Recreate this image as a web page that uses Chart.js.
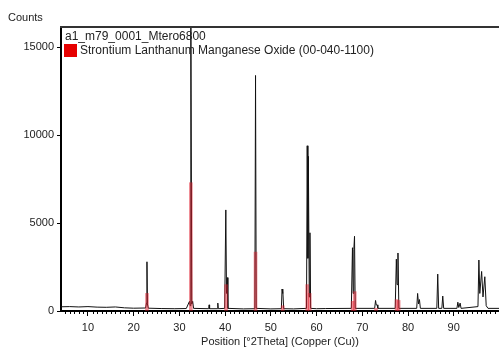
<!DOCTYPE html>
<html>
<head>
<meta charset="utf-8">
<script src="https://cdn.jsdelivr.net/npm/chart.js@4"></script>
<style>
  html, body { margin: 0; padding: 0; background: #fff; }
  #wrap { width: 499px; height: 349px; position: relative; }
</style>
</head>
<body>
<div id="wrap"><canvas id="xrdChart"></canvas></div>
<script>
let scanAngles = [4.1, 6, 8, 10, 12, 14, 16, 18, 20, 22.6, 22.8, 22.9, 23.0, 23.2, 26, 29, 31.5,
    32.2, 32.35, 32.5, 32.7, 32.9, 33.1, 36.4, 36.5, 36.6, 38.3, 38.4, 38.5,
    39.9, 40.15, 40.3, 40.45, 40.6, 44, 46.5, 46.65, 46.8, 50,
    52.3, 52.45, 52.55, 52.65, 52.8, 55, 57.8, 57.95, 58.1, 58.2, 58.4, 58.55, 58.7,
    60, 62, 67.6, 67.85, 68.0, 68.15, 68.3, 68.45, 72.7, 72.9, 73.05, 73.25, 73.4,
    77.2, 77.45, 77.6, 77.8, 78.0, 81.9, 82.1, 82.3, 82.5, 82.7,
    86.3, 86.5, 86.7, 87.4, 87.6, 87.8, 90.7, 90.9, 91.1, 91.4, 91.6,
    95.3, 95.5, 95.7, 96.1, 96.4, 96.8, 97.1, 97.5, 99.9];
let scanCounts = [240, 250, 230, 250, 220, 210, 230, 180, 160, 170, 450, 2800, 400, 160, 140, 130, 140,
    550, 300, 17000, 400, 550, 150, 130, 350, 130, 130, 450, 130,
    150, 5750, 1000, 1900, 150, 120, 130, 13400, 150, 120,
    130, 1250, 1000, 1250, 130, 120, 150, 9400, 3000, 8800, 800, 4450, 150,
    130, 140, 150, 3600, 1000, 3500, 4250, 150, 150, 600, 350, 350, 150,
    150, 2950, 1500, 3300, 150, 150, 1000, 400, 650, 150,
    150, 2100, 150, 150, 850, 150, 150, 500, 200, 450, 150,
    250, 2900, 1000, 2250, 800, 1950, 300, 150, 150];

// reference pattern 00-040-1100 sticks
let refAngles = [22.9, 32.5, 40.2, 46.65, 52.6, 57.95, 58.5, 67.9, 68.35, 73.0, 77.5, 77.95];
let refCounts = [1000, 7300, 1500, 3350, 300, 1500, 1000, 550, 1100, 150, 650, 600];

let xTicks = [10, 20, 30, 40, 50, 60, 70, 80, 90];
let yTicks = [0, 5000, 10000, 15000];

const axisFont = {family: 'Liberation Sans, Arial, sans-serif', size: 11};
const textColor = '#222';

const scanPoints = scanAngles.map((a, i) => ({x: a, y: scanCounts[i]}));
const refPoints = refAngles.map((a, i) => ({x: a, y: refCounts[i]}));

const decorations = {
    id: 'decorations',
    afterDraw(chart) {
        const {ctx, chartArea: {left, right, top, bottom}, scales: {x}} = chart;
        ctx.save();
        // top frame line
        ctx.strokeStyle = '#333';
        ctx.lineWidth = 2;
        ctx.beginPath();
        ctx.moveTo(left - 1, top - 1);
        ctx.lineTo(right, top - 1);
        ctx.stroke();

        // minor ticks every degree
        ctx.strokeStyle = '#000';
        ctx.lineWidth = 1;
        for (let d = 5; d < 100; d++) {
            if (d % 10 === 0) continue;
            const px = Math.round(x.getPixelForValue(d)) + 0.5;
            if (px < left || px > right) continue;
            ctx.beginPath();
            ctx.moveTo(px, bottom);
            ctx.lineTo(px, bottom + 3);
            ctx.stroke();
        }

        // "Counts" label
        ctx.font = '11px Liberation Sans, Arial, sans-serif';
        ctx.fillStyle = textColor;
        ctx.textAlign = 'left';
        ctx.textBaseline = 'middle';
        ctx.fillText('Counts', 8, 18);

        // legend inside plot
        ctx.font = '12px Liberation Sans, Arial, sans-serif';
        ctx.fillText(chart.data.datasets[0].label, left + 4, top + 9);
        ctx.fillStyle = 'rgb(230,0,0)';
        ctx.fillRect(left + 3, top + 16, 13, 13);
        ctx.fillStyle = textColor;
        ctx.fillText(chart.data.datasets[1].label, left + 19, top + 23);
        ctx.restore();
    }
};

const config = {
    type: 'line',
    data: {
        datasets: [{
            label: 'a1_m79_0001_Mtero6800',
            data: scanPoints,
            borderColor: '#111',
            borderWidth: 1,
            pointRadius: 0,
            tension: 0,
            order: 1
        }, {
            type: 'bar',
            label: 'Strontium Lanthanum Manganese Oxide (00-040-1100)',
            data: refPoints,
            backgroundColor: 'rgba(225,30,45,0.5)',
            barThickness: 3,
            order: 0
        }]
    },
    plugins: [decorations],
    options: {
        responsive: true,
        maintainAspectRatio: false,
        animation: false,
        layout: {padding: {top: 28, right: 0, left: 0, bottom: 0}},
        scales: {
            x: {
                type: 'linear',
                offset: false,
                min: 4.1,
                max: 99.9,
                afterBuildTicks: (scale) => { scale.ticks = xTicks.map(v => ({value: v})); },
                afterFit: (scale) => { scale.height = 38; },
                border: {display: true, color: '#000', width: 2},
                grid: {offset: false, drawOnChartArea: false, drawTicks: true, tickLength: 5, color: '#000'},
                ticks: {color: textColor, font: axisFont, padding: 5, maxRotation: 0,
                    callback: (v) => String(v)},
                title: {
                    display: true,
                    text: 'Position [°2Theta] (Copper (Cu))',
                    color: textColor,
                    font: axisFont,
                    padding: {top: 0, bottom: 0}
                }
            },
            y: {
                min: 0,
                max: 16100,
                afterBuildTicks: (scale) => { scale.ticks = yTicks.map(v => ({value: v})); },
                afterFit: (scale) => { scale.width = 61; },
                border: {display: true, color: '#000', width: 2},
                grid: {drawOnChartArea: false, drawTicks: true, tickLength: 4, color: '#000'},
                ticks: {color: textColor, font: axisFont, padding: 3,
                    callback: (v) => String(v)}
            }
        },
        plugins: {
            legend: {display: false},
            tooltip: {enabled: false}
        }
    }
};

new Chart(document.getElementById('xrdChart').getContext('2d'), config);
</script>
</body>
</html>
